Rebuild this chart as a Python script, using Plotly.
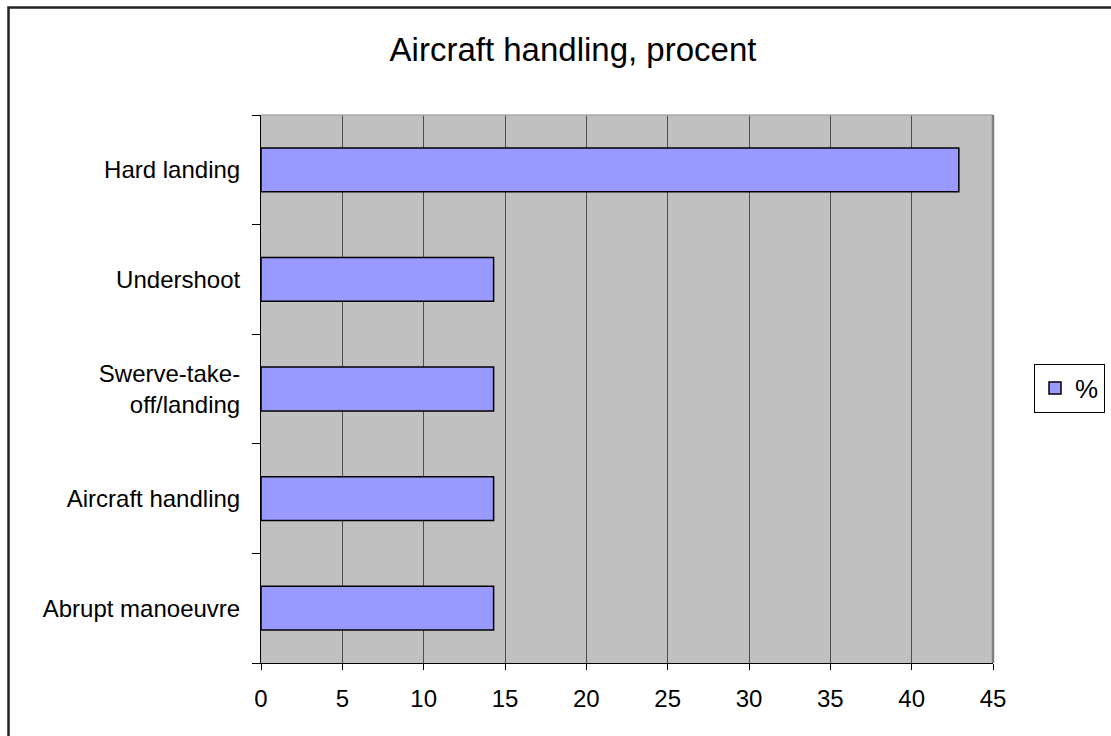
import plotly.graph_objects as go

# Categories listed bottom-to-top (Plotly draws the first category at the bottom)
categories = [
    "Abrupt manoeuvre",
    "Aircraft handling",
    "Swerve-take-<br>off/landing",
    "Undershoot",
    "Hard landing",
]
percent = [14.3, 14.3, 14.3, 14.3, 42.9]
x_ticks = [0, 5, 10, 15, 20, 25, 30, 35, 40, 45]

W, H = 1111, 736
L, R, T, B = 261, 118, 115, 73
pw, ph = W - L - R, H - T - B

def px_x(px):
    return (px - L) / pw

def px_y(py):
    return (H - B - py) / ph

FONT = "Liberation Sans, Arial, sans-serif"

fig = go.Figure()
fig.add_trace(go.Bar(
    x=percent,
    y=categories,
    orientation="h",
    name="%",
    width=0.4,
    marker=dict(color="#9999FF", line=dict(color="#000000", width=1.5)),
    showlegend=True,
))

fig.update_layout(
    width=W,
    height=H,
    margin=dict(l=L, r=R, t=T, b=B, autoexpand=False),
    paper_bgcolor="white",
    plot_bgcolor="#C0C0C0",
    font=dict(family=FONT, color="black"),
    title=dict(
        text="Aircraft handling, procent",
        font=dict(family=FONT, size=33, color="black"),
        xref="container", x=573 / W, xanchor="center",
        yref="container", y=1 - 49 / H, yanchor="middle",
    ),
    xaxis=dict(
        range=[0, 45],
        tickvals=x_ticks,
        ticktext=[str(v) for v in x_ticks],
        showgrid=True,
        gridcolor="#4d4d4d",
        gridwidth=1,
        zeroline=False,
        showline=True,
        linecolor="black",
        linewidth=1,
        ticks="outside",
        ticklen=6,
        tickcolor="black",
        tickfont=dict(family=FONT, size=24, color="black"),
        ticklabelstandoff=8,
    ),
    yaxis=dict(
        type="category",
        categoryorder="array",
        categoryarray=categories,
        range=[-0.5, 4.5],
        showgrid=False,
        zeroline=False,
        showline=True,
        linecolor="black",
        linewidth=1,
        ticks="outside",
        tickson="boundaries",
        ticklen=8,
        tickcolor="black",
        tickfont=dict(family=FONT, size=24, color="black"),
        ticklabelstandoff=15,
    ),
    legend=dict(
        x=px_x(1034), xanchor="left",
        y=px_y(388), yanchor="middle",
        bgcolor="white",
        bordercolor="black",
        borderwidth=1,
        entrywidth=110,
        itemwidth=30,
        font=dict(family=FONT, size=26, color="black"),
    ),
    bargap=0.6,
)

# Plot-area frame: light top edge, grey right edge
fig.add_shape(type="line", xref="paper", yref="paper",
              x0=0, x1=1, y0=1, y1=1, line=dict(color="#a8a8a8", width=1.5))
fig.add_shape(type="line", xref="paper", yref="paper",
              x0=1, x1=1, y0=0, y1=1, line=dict(color="#808080", width=2.5))

# Outer chart border
fig.add_shape(type="rect", xref="paper", yref="paper",
              x0=px_x(8.5), x1=px_x(1130), y0=px_y(760), y1=px_y(7.5),
              line=dict(color="#222222", width=2.5), fillcolor="rgba(0,0,0,0)")

fig.write_html("out.html")
